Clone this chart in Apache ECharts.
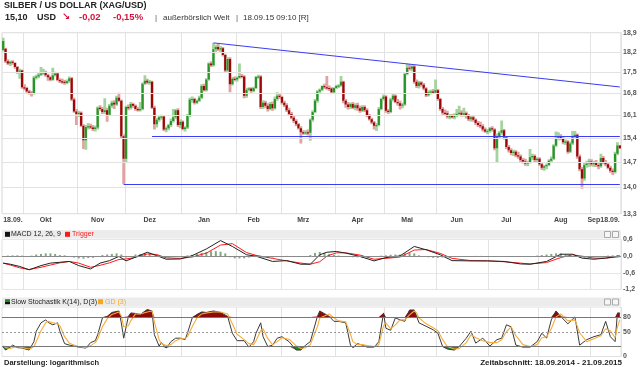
<!DOCTYPE html>
<html><head><meta charset="utf-8">
<script src="https://cdn.jsdelivr.net/npm/echarts@6/dist/echarts.min.js"></script>
<style>html,body{margin:0;padding:0;background:#fff}#c{width:641px;height:367px}</style>
</head><body><div id="c"></div>
<script>
// ---------- price data (daily, weekdays from 18.09.2014) ----------
const open = [
18.28,18.32,17.88,17.80,17.86,17.82,17.68,17.52,17.56,17.00,
16.98,16.86,16.82,16.78,17.32,17.36,17.42,17.46,17.50,17.40,
17.33,17.25,17.40,17.46,17.24,17.20,17.18,17.14,17.20,17.30,
16.60,16.22,16.14,16.18,15.78,15.34,15.74,15.76,15.72,15.68,
15.72,16.34,16.30,16.20,16.26,16.12,16.40,16.50,16.44,16.66,
16.56,15.46,14.80,16.36,16.34,16.46,16.40,16.30,16.28,16.30,
17.12,17.22,17.16,17.18,16.34,15.82,15.96,16.04,16.06,15.66,
15.70,15.80,15.92,16.04,16.26,15.80,15.90,15.68,15.72,16.10,
16.60,16.62,16.50,16.56,16.66,17.04,16.90,17.26,17.80,17.74,
18.30,18.38,18.30,18.34,18.10,17.56,17.96,17.10,17.28,17.26,
17.32,17.38,17.36,16.72,16.92,16.96,16.88,16.98,17.34,17.36,
16.36,16.50,16.40,16.30,16.46,16.32,16.62,16.72,16.68,16.50,
16.42,16.26,16.14,16.02,15.92,15.82,15.70,15.58,15.56,15.58,
15.56,15.96,16.20,16.56,16.86,16.92,17.04,17.00,16.98,16.96,
16.84,16.98,17.04,17.06,17.18,16.56,16.44,16.36,16.46,16.34,
16.42,16.32,16.24,16.36,16.26,16.10,15.98,15.88,15.78,15.80,
16.30,16.62,16.70,16.24,16.20,16.60,16.72,16.52,16.48,16.40,
16.44,17.44,17.66,17.62,17.70,17.18,17.04,17.16,17.08,16.96,
16.74,16.84,16.86,16.82,16.90,16.62,16.30,16.18,16.16,16.06,
16.08,16.04,16.10,16.14,16.18,16.12,16.16,16.10,15.98,16.04,
15.96,15.86,15.80,15.76,15.66,15.60,15.62,15.70,15.66,15.10,
15.46,15.56,15.64,15.42,15.14,15.04,14.96,15.00,14.90,14.86,
14.76,14.72,14.66,14.70,14.84,14.88,14.76,14.80,14.64,14.54,
14.58,14.62,14.74,14.80,15.18,15.40,15.46,15.40,15.28,15.30,
15.00,15.24,15.44,15.50,14.86,14.50,14.24,14.62,14.66,14.72,
14.64,14.68,14.62,14.58,14.82,14.70,14.64,14.54,14.46,14.42,
14.94,15.18];
const high = [
18.72,18.36,17.95,17.90,17.92,17.85,17.72,17.62,17.60,17.10,
17.02,16.92,16.88,17.38,17.42,17.48,17.68,17.62,17.55,17.45,
17.38,17.66,17.52,17.50,17.30,17.28,17.24,17.26,17.36,17.34,
16.66,16.30,16.24,16.22,15.82,15.80,15.86,15.84,15.80,15.78,
16.38,16.42,16.36,16.64,16.34,16.46,16.56,16.58,16.72,16.82,
16.60,15.52,16.40,16.44,16.52,16.50,16.44,16.36,16.52,17.16,
17.40,17.28,17.24,17.22,16.40,16.02,16.10,16.12,16.10,15.76,
15.84,16.00,16.30,16.30,16.32,15.98,15.94,15.76,16.14,16.66,
16.70,16.66,16.60,16.72,17.10,17.12,17.30,17.84,17.88,18.53,
18.46,18.50,18.42,18.38,18.14,18.02,18.02,17.34,17.36,17.36,
17.80,17.44,17.40,16.98,17.00,17.00,17.02,17.38,17.42,17.40,
16.58,16.56,16.48,16.52,16.54,16.70,16.84,16.80,16.72,16.56,
16.48,16.34,16.20,16.08,15.98,15.86,15.76,15.64,15.64,15.66,
16.00,16.26,16.62,16.90,16.96,17.06,17.12,17.38,17.06,17.00,
17.00,17.08,17.10,17.38,17.22,16.62,16.52,16.50,16.52,16.48,
16.50,16.40,16.42,16.42,16.32,16.14,16.02,15.92,15.86,16.36,
16.66,16.76,16.74,16.30,16.66,16.80,16.76,16.62,16.56,16.50,
17.50,17.80,17.78,17.74,17.74,17.26,17.22,17.20,17.14,17.00,
16.90,16.92,16.94,17.26,16.94,16.66,16.36,16.28,16.24,16.14,
16.14,16.16,16.30,16.40,16.26,16.34,16.22,16.14,16.10,16.08,
16.00,15.92,15.90,15.82,15.72,15.68,15.74,15.76,15.70,15.54,
15.62,15.94,15.68,15.46,15.20,15.10,15.06,15.04,15.00,14.92,
14.82,14.80,14.74,15.08,14.94,14.92,14.84,14.84,14.70,14.62,
14.66,14.78,14.86,15.22,15.60,15.58,15.52,15.46,15.36,15.34,
15.30,15.62,15.62,15.54,14.92,14.56,14.70,14.74,14.80,14.78,
14.74,14.76,14.70,14.94,14.88,14.76,14.70,14.60,14.52,15.00,
15.28,15.20];
const low = [
18.22,17.82,17.75,17.72,17.76,17.62,17.45,17.28,16.95,16.90,
16.82,16.76,16.70,16.76,17.26,17.30,17.38,17.40,17.35,17.22,
17.20,17.22,17.36,17.20,17.14,17.12,17.08,17.10,17.15,16.55,
16.18,15.80,16.05,15.74,15.08,15.06,15.66,15.68,15.62,15.60,
15.66,16.24,16.14,16.14,15.90,16.08,16.34,16.30,16.40,16.52,
15.40,14.08,14.70,16.26,16.28,16.34,16.24,16.22,16.22,16.26,
17.08,17.10,17.08,16.30,15.66,15.72,15.90,15.96,15.62,15.58,
15.64,15.74,15.88,15.98,15.74,15.70,15.64,15.60,15.68,16.04,
16.50,16.44,16.46,16.52,16.62,16.86,16.86,17.22,17.68,17.70,
18.16,18.24,18.20,18.05,17.50,17.52,16.84,17.06,17.20,17.18,
17.28,17.30,16.64,16.66,16.86,16.82,16.84,16.94,17.28,16.30,
16.30,16.34,16.22,16.26,16.24,16.28,16.56,16.62,16.44,16.36,
16.20,16.08,15.98,15.86,15.76,15.66,15.24,15.50,15.50,15.48,
15.32,15.90,16.16,16.50,16.80,16.88,16.94,16.92,16.88,16.78,
16.80,16.94,16.98,17.02,16.48,16.34,16.28,16.30,16.30,16.26,
16.24,16.18,16.20,16.20,16.04,15.94,15.82,15.66,15.62,15.76,
16.26,16.56,16.18,16.14,16.16,16.54,16.48,16.40,16.28,16.32,
16.40,17.40,17.56,17.54,17.12,16.98,16.96,17.02,16.90,16.68,
16.70,16.76,16.78,16.78,16.56,16.24,16.12,16.08,16.00,15.98,
16.00,15.98,16.04,16.08,16.06,16.06,16.00,15.92,15.90,15.90,
15.80,15.74,15.70,15.60,15.56,15.52,15.56,15.60,15.04,14.70,
15.40,15.50,15.36,15.08,14.98,14.90,14.88,14.84,14.80,14.70,
14.66,14.60,14.58,14.66,14.76,14.70,14.68,14.60,14.48,14.46,
14.50,14.58,14.70,14.76,15.14,15.34,15.34,15.22,15.20,14.94,
14.96,15.20,15.38,14.80,14.44,13.96,14.18,14.54,14.56,14.58,
14.56,14.56,14.50,14.54,14.64,14.58,14.50,14.40,14.34,14.38,
14.90,15.08];
const close = [
18.60,17.88,17.80,17.86,17.82,17.68,17.52,17.56,17.00,16.98,
16.86,16.82,16.78,17.32,17.36,17.42,17.46,17.50,17.40,17.33,
17.25,17.40,17.46,17.24,17.20,17.18,17.14,17.20,17.30,16.60,
16.22,16.14,16.18,15.78,15.34,15.74,15.76,15.72,15.68,15.72,
16.34,16.30,16.20,16.26,16.12,16.40,16.50,16.44,16.66,16.56,
15.46,14.80,16.36,16.34,16.46,16.40,16.30,16.28,16.30,17.12,
17.22,17.16,17.18,16.34,15.82,15.96,16.04,16.06,15.66,15.70,
15.80,15.92,16.04,16.26,15.80,15.90,15.68,15.72,16.10,16.60,
16.62,16.50,16.56,16.66,17.04,16.90,17.26,17.80,17.74,18.30,
18.38,18.30,18.34,18.10,17.56,17.96,17.10,17.28,17.26,17.32,
17.38,17.36,16.72,16.92,16.96,16.88,16.98,17.34,17.36,16.36,
16.50,16.40,16.30,16.46,16.32,16.62,16.72,16.68,16.50,16.42,
16.26,16.14,16.02,15.92,15.82,15.70,15.58,15.56,15.58,15.56,
15.96,16.20,16.56,16.86,16.92,17.04,17.00,16.98,16.96,16.84,
16.98,17.04,17.06,17.18,16.56,16.44,16.36,16.46,16.34,16.42,
16.32,16.24,16.36,16.26,16.10,15.98,15.88,15.78,15.80,16.30,
16.62,16.70,16.24,16.20,16.60,16.72,16.52,16.48,16.40,16.44,
17.44,17.66,17.62,17.70,17.18,17.04,17.16,17.08,16.96,16.74,
16.84,16.86,16.82,16.90,16.62,16.30,16.18,16.16,16.06,16.08,
16.04,16.10,16.14,16.18,16.12,16.16,16.10,15.98,16.04,15.96,
15.86,15.80,15.76,15.66,15.60,15.62,15.70,15.66,15.10,15.46,
15.56,15.64,15.42,15.14,15.04,14.96,15.00,14.90,14.86,14.76,
14.72,14.66,14.70,14.84,14.88,14.76,14.80,14.64,14.54,14.58,
14.62,14.74,14.80,15.18,15.40,15.46,15.40,15.28,15.30,15.00,
15.24,15.44,15.50,14.86,14.50,14.24,14.62,14.66,14.72,14.64,
14.68,14.62,14.58,14.82,14.70,14.64,14.54,14.46,14.42,14.94,
15.18,15.10];

// ---------- axis / tick data ----------
const yTicks = [13.3, 14.0, 14.7, 15.4, 16.1, 16.8, 17.5, 18.2, 18.9];
const monthStarts = [9, 32, 52, 76, 99, 118, 141, 162, 184, 206, 227, 249];
const xLabelIdx  = [0, 18, 40, 62, 85, 106, 127, 150, 171, 192, 213, 236, 250, 261];
const xLabelText = ['18.09.', 'Okt', 'Nov', 'Dez', 'Jan', 'Feb', 'Mrz', 'Apr', 'Mai', 'Jun', 'Jul', 'Aug', 'Sep', '18.09.'];
// trend lines: [startIdx, startValue, endIdx, endValue]
const trendLines = [[89, 18.53, 261, 17.01], [63, 15.46, 261, 15.46], [51, 14.08, 261, 14.08]];

// ---------- MACD (12,26,9) ----------
const macdIdx  = [0,3,7,11,16,20,24,28,32,37,41,45,49,52,55,61,65,69,75,80,86,92,97,103,107,114,120,126,130,134,137,141,145,151,157,162,168,174,179,185,190,198,205,212,219,223,230,236,241,245,250,255,261];
const macdLine = [-0.25,-0.29,-0.37,-0.49,-0.34,-0.25,-0.22,-0.19,-0.34,-0.46,-0.25,-0.16,-0.01,-0.17,-0.07,0.14,0.02,-0.11,-0.10,0.02,0.26,0.56,0.35,0.05,0.00,-0.19,-0.16,-0.29,-0.29,0.05,0.14,0.17,0.11,-0.01,-0.17,-0.05,0.01,0.35,0.23,0.05,-0.16,-0.17,-0.17,-0.19,-0.28,-0.29,-0.19,0.07,0.07,-0.07,-0.11,-0.07,0.01];
const trigger  = [-0.25,-0.32,-0.42,-0.48,-0.40,-0.32,-0.24,-0.19,-0.25,-0.40,-0.33,-0.24,-0.12,-0.10,-0.06,0.08,0.06,-0.06,-0.08,-0.03,0.11,0.40,0.45,0.13,0.03,-0.08,-0.17,-0.25,-0.29,-0.20,0.00,0.12,0.12,0.04,-0.11,-0.08,-0.03,0.22,0.24,0.10,-0.08,-0.16,-0.17,-0.20,-0.25,-0.28,-0.23,-0.05,0.05,0.00,-0.07,-0.07,-0.02];
// histogram, every 2nd day from day 0
const macdHist = [
0.00,0.02,0.03,0.03,0.02,0.00,0.02,
0.06,0.08,0.10,0.10,0.08,0.04,0.03,0.00,
-0.05,-0.08,-0.09,-0.07,-0.06,-0.03,0.04,0.06,
0.08,0.10,0.06,
-0.05,-0.02,0.06,0.08,0.10,0.10,0.02,
-0.02,-0.04,-0.04,-0.02,-0.02,0.00,0.03,
0.05,0.08,0.12,0.15,0.18,0.18,0.16,0.10,
-0.04,-0.08,-0.08,-0.08,-0.05,-0.03,-0.03,-0.05,
-0.06,-0.05,-0.02,0.00,0.01,-0.02,-0.03,-0.03,-0.01,
0.04,0.12,0.15,0.12,0.08,0.05,0.02,
-0.01,-0.03,-0.04,-0.04,-0.05,-0.04,-0.03,0.00,0.02,
0.03,0.05,0.06,0.06,0.10,0.12,0.10,0.03,-0.02,
-0.04,-0.06,-0.06,-0.05,-0.04,-0.03,-0.02,-0.01,0.00,
0.00,0.01,0.01,0.00,-0.01,-0.02,-0.02,-0.01,-0.01,0.00,-0.01,-0.02,-0.01,0.00,0.02,
0.04,0.06,0.08,0.10,0.10,0.06,0.03,
-0.02,-0.05,-0.06,-0.05,-0.04,-0.02,0.00,0.02,
0.03,0.04];

// ---------- Slow Stochastik K(14), D(3) ----------
const stochIdx = [0,1,3,4,6,8,11,13,14,16,18,19,21,23,24,26,28,30,32,35,37,39,40,42,44,46,49,50,51,53,54,56,58,61,63,64,66,67,69,71,73,75,77,78,80,82,84,86,89,92,95,97,99,102,104,106,107,109,110,112,114,116,118,121,124,126,128,130,133,134,138,140,142,145,147,148,150,152,154,157,159,161,162,164,166,168,170,172,174,175,176,179,182,184,186,188,191,193,196,198,200,203,206,209,211,213,215,217,220,223,226,228,230,232,234,236,239,242,244,247,250,253,255,257,259,260,261];
const stochK = [19,13,19,23,18,17,13,30,51,68,74,69,64,68,51,26,23,21,19,17,28,32,44,78,81,89,92,68,37,81,88,87,85,95,92,44,21,28,17,30,37,37,34,47,78,85,90,89,92,89,81,47,32,32,19,30,47,68,40,20,23,37,40,30,13,13,23,30,81,92,81,71,71,68,23,18,26,23,19,19,30,88,57,53,78,74,71,94,94,81,68,61,54,47,20,15,13,20,37,51,27,37,21,34,37,64,60,23,19,19,30,47,37,74,92,81,66,80,23,34,40,44,71,40,30,88,88];
const stochD = [22,18,16,18,20,18,15,20,30,52,68,71,68,66,62,40,27,23,20,18,22,28,36,60,76,85,90,82,60,62,72,86,86,90,92,70,34,26,22,24,32,36,36,40,60,78,86,88,90,90,86,66,45,34,26,24,32,52,56,36,24,30,38,35,22,16,18,24,60,78,86,78,72,70,45,30,24,24,22,20,24,62,68,56,64,74,74,84,92,88,78,66,58,52,34,20,15,16,28,44,38,32,28,28,34,50,60,42,24,20,24,38,40,56,80,86,72,74,48,30,36,42,56,52,38,60,74];

// ---------- build ----------
const dates = (() => {
  const out = []; const d = new Date(Date.UTC(2014, 8, 18));
  while (out.length < open.length) {
    const wd = d.getUTCDay();
    if (wd !== 0 && wd !== 6) {
      out.push(String(d.getUTCDate()).padStart(2, '0') + '.' + String(d.getUTCMonth() + 1).padStart(2, '0') + '.' + d.getUTCFullYear());
    }
    d.setUTCDate(d.getUTCDate() + 1);
  }
  return out;
})();
const candleRows = open.map((o, i) => [i, o, close[i], low[i], high[i]]);
const FONT = '"Liberation Sans", Arial, sans-serif';
const comma = v => (Math.round(v * 10) / 10).toFixed(1).replace('.', ',');

const splitV = { show: true, interval: (i) => monthStarts.includes(i), lineStyle: { color: '#e3e3e3', width: 1 } };
const mkX = (gi, labels) => ({
  type: 'category', gridIndex: gi, data: dates, boundaryGap: true,
  axisLine: { show: false }, axisTick: { show: false }, splitLine: splitV,
  axisLabel: labels ? {
    show: true, interval: (i) => xLabelIdx.includes(i), hideOverlap: false,
    formatter: (v, i) => { const k = xLabelIdx.indexOf(i); return k >= 0 ? xLabelText[k] : ''; },
    fontSize: 7, fontWeight: 'bold', fontFamily: FONT, color: '#444', margin: 3,
    showMinLabel: true, showMaxLabel: true, alignMinLabel: 'left', alignMaxLabel: 'right'
  } : { show: false }
});
const yLab = (fmt) => ({ fontSize: 7, fontWeight: 'bold', fontFamily: FONT, color: '#555', margin: 2, formatter: fmt, hideOverlap: false });

const ml = (items) => ({ silent: true, symbol: 'none', animation: false, label: { show: false }, data: items });

const option = {
  animation: false,
  backgroundColor: '#ffffff',
  grid: [
    { left: 2, right: 20, top: 32.7, height: 181, show: true, borderColor: '#d6d6d6', borderWidth: 1 },
    { left: 2, right: 20, top: 239.5, height: 50, show: true, borderColor: '#e0e0e0', borderWidth: 1 },
    { left: 2, right: 20, top: 307, height: 49.5, show: true, borderColor: '#e0e0e0', borderWidth: 1 }
  ],
  xAxis: [mkX(0, true), mkX(1, false), mkX(2, false)],
  yAxis: [
    { type: 'log', logBase: 10, gridIndex: 0, min: 13.3, max: 18.9, position: 'right',
      axisLine: { show: false }, axisTick: { show: false }, splitLine: { show: false },
      axisLabel: Object.assign(yLab(comma), { customValues: yTicks }) },
    { type: 'value', gridIndex: 1, min: -1.2, max: 0.6, interval: 0.6, position: 'right',
      axisLine: { show: false }, axisTick: { show: false },
      splitLine: { show: true, lineStyle: { color: '#e6e6e6' } }, axisLabel: yLab(comma) },
    { type: 'value', gridIndex: 2, min: 0, max: 100, interval: 10, position: 'right',
      axisLine: { show: false }, axisTick: { show: false }, splitLine: { show: false },
      axisLabel: yLab(v => (v === 0 || v === 50 || v === 80) ? String(v) : '') }
  ],
  series: [
    { type: 'line', xAxisIndex: 0, yAxisIndex: 0, data: [], z: 1,
      markLine: ml(yTicks.map(v => ({ yAxis: v, lineStyle: { color: '#e3e3e3', width: 1, type: 'solid' } }))) },
    { type: 'custom', xAxisIndex: 0, yAxisIndex: 0, z: 3, clip: true,
      data: candleRows, encode: { x: 0, y: [1, 2, 3, 4] },
      renderItem: (params, api) => {
        const i = api.value(0), o = api.value(1), c = api.value(2), l = api.value(3), h = api.value(4);
        const pH = api.coord([i, h]), pL = api.coord([i, l]), pO = api.coord([i, o]), pC = api.coord([i, c]);
        const up = c >= o, x = pH[0];
        const top = Math.min(pO[1], pC[1]), bh = Math.max(1.2, Math.abs(pO[1] - pC[1]));
        return { type: 'group', children: [
          { type: 'rect', shape: { x: x - 1.4, y: pH[1], width: 2.8, height: Math.max(1, pL[1] - pH[1]) },
            style: { fill: up ? '#a3d49d' : '#e0a2a2' } },
          { type: 'rect', shape: { x: x - 1.1, y: top, width: 2.2, height: bh },
            style: { fill: up ? '#2b932b' : '#9a0707' } }
        ] };
      } },
    { type: 'line', xAxisIndex: 0, yAxisIndex: 0, data: [], z: 4,
      markLine: ml(trendLines.map(t => [
        { coord: [dates[t[0]], t[1]], lineStyle: { color: '#3c3cf0', width: 1, type: 'solid' } },
        { coord: [dates[t[2]], t[3]] }])) },
    // MACD
    { type: 'bar', xAxisIndex: 1, yAxisIndex: 1, barWidth: 2, z: 2,
      itemStyle: { color: '#80a880' }, data: macdHist.map((v, k) => [2 * k, v]),
      markLine: ml([{ yAxis: 0, lineStyle: { color: '#8a8a8a', width: 1, type: 'solid' } }]) },
    { type: 'line', xAxisIndex: 1, yAxisIndex: 1, z: 3, showSymbol: false, symbol: 'none',
      lineStyle: { color: '#ff1a1a', width: 1 }, data: macdIdx.map((x, k) => [x, trigger[k]]) },
    { type: 'line', xAxisIndex: 1, yAxisIndex: 1, z: 4, showSymbol: false, symbol: 'none',
      lineStyle: { color: '#222', width: 1 }, data: macdIdx.map((x, k) => [x, macdLine[k]]) },
    // Stochastic fills (stacked bands around 80 / 20)
    { type: 'line', xAxisIndex: 2, yAxisIndex: 2, stack: 'hi', z: 1, showSymbol: false, symbol: 'none',
      lineStyle: { opacity: 0 }, data: stochIdx.map(x => [x, 80]) },
    { type: 'line', xAxisIndex: 2, yAxisIndex: 2, stack: 'hi', z: 1, showSymbol: false, symbol: 'none',
      lineStyle: { opacity: 0 }, areaStyle: { color: '#8b0a0a', opacity: 1 },
      data: stochIdx.map((x, k) => [x, Math.max(stochK[k] - 80, 0)]) },
    { type: 'line', xAxisIndex: 2, yAxisIndex: 2, stack: 'lo', z: 1, showSymbol: false, symbol: 'none',
      lineStyle: { opacity: 0 }, data: stochIdx.map((x, k) => [x, Math.min(stochK[k], 20)]) },
    { type: 'line', xAxisIndex: 2, yAxisIndex: 2, stack: 'lo', z: 1, showSymbol: false, symbol: 'none',
      lineStyle: { opacity: 0 }, areaStyle: { color: '#1f8a1f', opacity: 1 },
      data: stochIdx.map((x, k) => [x, 20 - Math.min(stochK[k], 20)]) },
    { type: 'line', xAxisIndex: 2, yAxisIndex: 2, data: [], z: 2,
      markLine: ml([
        { yAxis: 80, lineStyle: { color: '#777', width: 1, type: 'solid' } },
        { yAxis: 20, lineStyle: { color: '#777', width: 1, type: 'solid' } },
        { yAxis: 50, lineStyle: { color: '#999', width: 1, type: [2, 2] } }]) },
    { type: 'line', xAxisIndex: 2, yAxisIndex: 2, z: 3, showSymbol: false, symbol: 'none',
      lineStyle: { color: '#3a3a3a', width: 1 }, data: stochIdx.map((x, k) => [x, stochK[k]]) },
    { type: 'line', xAxisIndex: 2, yAxisIndex: 2, z: 4, showSymbol: false, symbol: 'none',
      lineStyle: { color: '#f7ac3a', width: 1.1 }, data: stochIdx.map((x, k) => [x, stochD[k]]) }
  ],
  graphic: [
    { type: 'text', x: 4, y: 6, silent: true, style: { text: 'SILBER / US DOLLAR (XAG/USD)', font: 'bold 9px ' + FONT, fill: '#222', textVerticalAlign: 'middle' } },
    { type: 'text', x: 5, y: 17.5, silent: true, style: { text: '15,10', font: 'bold 9px ' + FONT, fill: '#222', textVerticalAlign: 'middle' } },
    { type: 'text', x: 37, y: 17.5, silent: true, style: { text: 'USD', font: 'bold 9px ' + FONT, fill: '#222', textVerticalAlign: 'middle' } },
    { type: 'text', x: 62, y: 17.5, silent: true, style: { text: '\u2198', font: 'bold 10px "DejaVu Sans"', fill: '#d4143c', textVerticalAlign: 'middle' } },
    { type: 'text', x: 79, y: 17.5, silent: true, style: { text: '-0,02', font: 'bold 9.5px ' + FONT, fill: '#d4143c', textVerticalAlign: 'middle' } },
    { type: 'text', x: 113, y: 17.5, silent: true, style: { text: '-0,15%', font: 'bold 9.5px ' + FONT, fill: '#d4143c', textVerticalAlign: 'middle' } },
    { type: 'text', x: 155, y: 17.5, silent: true, style: { text: '|', font: '8px ' + FONT, fill: '#555', textVerticalAlign: 'middle' } },
    { type: 'text', x: 163, y: 17.5, silent: true, style: { text: 'außerbörslich Welt', font: '8px ' + FONT, fill: '#333', textVerticalAlign: 'middle' } },
    { type: 'text', x: 236, y: 17.5, silent: true, style: { text: '|', font: '8px ' + FONT, fill: '#555', textVerticalAlign: 'middle' } },
    { type: 'text', x: 243, y: 17.5, silent: true, style: { text: '18.09.15 09:10 [R]', font: '8px ' + FONT, fill: '#333', textVerticalAlign: 'middle' } },
    // MACD header
    { type: 'rect', silent: true, shape: { x: 2, y: 230, width: 619, height: 8.5 }, style: { fill: '#ececec' } },
    { type: 'rect', silent: true, shape: { x: 5, y: 231.8, width: 5, height: 5 }, style: { fill: '#111' } },
    { type: 'text', x: 11, y: 234.5, silent: true, style: { text: 'MACD 12, 26, 9', font: '7px ' + FONT, fill: '#222', textVerticalAlign: 'middle' } },
    { type: 'rect', silent: true, shape: { x: 65, y: 231.8, width: 5, height: 5 }, style: { fill: '#ff1a1a' } },
    { type: 'text', x: 72, y: 234.5, silent: true, style: { text: 'Trigger', font: '7px ' + FONT, fill: '#ff1a1a', textVerticalAlign: 'middle' } },
    { type: 'rect', silent: true, shape: { x: 604.5, y: 231.5, width: 6, height: 6 }, style: { fill: '#f6f6f6', stroke: '#aaa', lineWidth: 1 } },
    { type: 'rect', silent: true, shape: { x: 612.5, y: 231.5, width: 6, height: 6 }, style: { fill: '#f6f6f6', stroke: '#aaa', lineWidth: 1 } },
    // Stochastic header
    { type: 'rect', silent: true, shape: { x: 2, y: 297.5, width: 619, height: 8.5 }, style: { fill: '#ececec' } },
    { type: 'rect', silent: true, shape: { x: 5, y: 299.2, width: 5, height: 2.5 }, style: { fill: '#1f8a1f' } },
    { type: 'rect', silent: true, shape: { x: 5, y: 301.7, width: 5, height: 2.5 }, style: { fill: '#111' } },
    { type: 'text', x: 11, y: 301.8, silent: true, style: { text: 'Slow Stochastik K(14), D(3)', font: '7px ' + FONT, fill: '#222', textVerticalAlign: 'middle' } },
    { type: 'rect', silent: true, shape: { x: 98, y: 299.2, width: 5, height: 5 }, style: { fill: '#f5a623' } },
    { type: 'text', x: 105, y: 301.8, silent: true, style: { text: 'GD (3)', font: '7px ' + FONT, fill: '#f5a623', textVerticalAlign: 'middle' } },
    { type: 'rect', silent: true, shape: { x: 604.5, y: 299, width: 6, height: 6 }, style: { fill: '#f6f6f6', stroke: '#aaa', lineWidth: 1 } },
    { type: 'rect', silent: true, shape: { x: 612.5, y: 299, width: 6, height: 6 }, style: { fill: '#f6f6f6', stroke: '#aaa', lineWidth: 1 } },
    // footer
    { type: 'text', x: 4, y: 362.5, silent: true, style: { text: 'Darstellung: logarithmisch', font: 'bold 7.5px ' + FONT, fill: '#222', textVerticalAlign: 'middle' } },
    { type: 'text', x: 622, y: 362.5, silent: true, style: { text: 'Zeitabschnitt: 18.09.2014 - 21.09.2015', font: 'bold 8px ' + FONT, fill: '#222', textAlign: 'right', textVerticalAlign: 'middle' } }
  ]
};
const chart = echarts.init(document.getElementById('c'), null, { renderer: 'canvas' });
chart.setOption(option);
</script>
</body></html>
